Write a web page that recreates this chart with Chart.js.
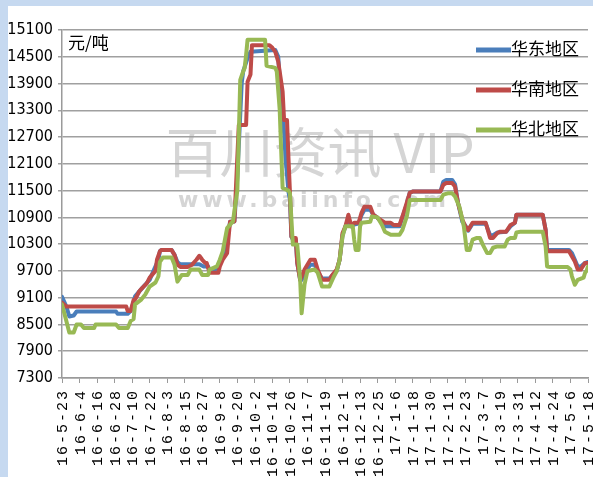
<!DOCTYPE html>
<html>
<head>
<meta charset="utf-8">
<script src="https://cdn.jsdelivr.net/npm/chart.js@4.4.1/dist/chart.umd.min.js"></script>
<style>
    html, body { margin: 0; padding: 0; }
    body { width: 593px; height: 477px; background: #c6d9f0; position: relative; overflow: hidden; }
    #wrap { position: absolute; left: 8px; top: 6px; width: 585px; height: 471px; background: #fff; }
</style>
</head>
<body>
<div id="wrap"><canvas id="chart" width="585" height="471"></canvas></div>
<script>
'use strict';

// x tick labels, one every 12 days starting 16-5-23 (day 0)
var tickLabels = ['16-5-23','16-6-4','16-6-16','16-6-28','16-7-10','16-7-22','16-8-3','16-8-15',
    '16-8-27','16-9-8','16-9-20','16-10-2','16-10-14','16-10-26','16-11-7','16-11-19','16-12-1',
    '16-12-13','16-12-25','17-1-6','17-1-18','17-1-30','17-2-11','17-2-23','17-3-7','17-3-19',
    '17-3-31','17-4-12','17-4-24','17-5-6','17-5-18'];

// 华东地区 (day offset, price)
var eastDays = [0,3,5,8,10,37,38,45,47,49,50,55,60,63,66,67,68,75,77,79,81,94,97,100,101,104,108,110,112,115,118,120,123,124,127,129,146,148,149,151,153,155,156,157,158,160,161,163,164,166,170,173,175,178,183,185,188,190,192,194,196,198,200,203,205,207,211,213,216,221,231,233,236,238,240,259,261,263,267,269,271,274,276,278,281,290,293,295,298,304,307,310,311,329,331,332,347,349,351,353,355,358,360];
var eastValues = [9120,8900,8680,8700,8790,8790,8740,8740,8800,9000,9130,9320,9500,9730,9950,10140,10170,10170,10060,9900,9850,9850,9800,9800,9700,9700,9850,10000,10200,10800,10810,11800,13910,14170,14470,14610,14650,14500,14000,13350,12230,11470,11300,10470,10400,10400,9880,9500,9500,9650,9840,9840,9680,9530,9530,9600,9700,9950,10500,10700,10850,10700,10740,10760,10950,11070,11070,10960,10890,10700,10700,10900,11200,11450,11480,11480,11700,11740,11740,11640,11230,10800,10720,10600,10760,10760,10500,10500,10560,10580,10700,10780,10960,10960,10620,10170,10170,10100,9950,9800,9800,9880,9900];

// 华南地区
var southDays = [0,3,44,45,47,49,50,53,55,58,60,64,65,67,68,75,77,79,81,86,89,92,94,96,98,99,101,107,108,110,113,115,118,121,126,127,129,130,142,144,146,148,151,152,154,155,156,157,158,160,161,163,164,166,170,173,175,178,183,185,188,190,192,194,196,198,200,203,205,207,211,213,216,221,225,227,231,233,236,238,240,259,261,263,267,269,271,274,276,278,281,290,293,295,298,300,304,307,310,311,329,331,332,347,351,353,355,358,360];
var southValues = [8990,8900,8900,8800,8800,9050,9060,9250,9320,9420,9550,9700,9950,10140,10170,10170,10060,9840,9790,9790,9840,9950,10040,9950,9880,9880,9660,9660,9800,9950,10100,10800,10810,12970,12970,13940,14100,14760,14760,14700,14610,14390,13720,13080,13080,12230,11470,10470,10440,10440,9880,9500,9570,9730,9950,9950,9730,9500,9500,9610,9730,9950,10550,10700,10960,10700,10780,10780,11000,11140,11140,10960,10890,10780,10780,10730,10730,10920,11230,11450,11480,11480,11630,11670,11670,11590,11230,10850,10700,10620,10780,10780,10440,10440,10550,10580,10580,10730,10780,10960,10960,10620,10140,10140,9910,9730,9730,9880,9880];

// 华北地区
var northDays = [0,2,5,8,10,13,15,22,23,37,39,45,47,49,50,54,57,60,64,66,67,69,75,77,79,82,86,88,94,96,100,101,106,108,110,113,117,120,122,124,125,126,127,139,140,146,147,149,150,151,155,156,158,161,163,164,166,168,173,175,178,183,186,188,190,192,194,199,200,201,203,204,205,211,212,216,219,221,225,231,233,236,238,259,261,264,267,269,272,275,277,279,281,284,286,288,291,293,295,298,303,305,307,310,311,314,329,331,332,334,346,348,349,351,353,357,358,359,360];
var northValues = [8950,8700,8320,8320,8500,8500,8420,8420,8500,8500,8420,8420,8580,8620,8950,9050,9170,9350,9440,9580,9900,10000,10000,9840,9460,9610,9610,9730,9730,9610,9610,9730,9800,9950,10140,10660,10810,11500,13980,14170,14250,14540,14880,14880,14300,14250,14170,13310,12410,11560,11500,11440,10290,10290,9500,8750,9400,9700,9730,9660,9350,9350,9570,9690,9950,10470,10700,10700,10400,10170,10170,10700,10780,10800,10920,10900,10730,10580,10510,10510,10620,10920,11290,11290,11410,11440,11440,11370,11140,10700,10170,10170,10400,10440,10440,10290,10100,10100,10220,10250,10250,10400,10440,10440,10560,10580,10580,10250,9800,9790,9790,9730,9580,9390,9500,9550,9660,9700,9800];

var seriesLabels = ['华东地区', '华南地区', '华北地区'];
var seriesColors = ['#4a7ebb', '#be4b48', '#98b954'];

function toPoints(days, values) {
    return days.map(function(d, i) {
        return { x: d, y: values[i] };
    });
}

var decorPlugin = {
    id: 'decor',

    beforeDraw: function(chart) {
        var c = chart.ctx;
        c.save();
        c.fillStyle = '#d5d5d5';
        c.textAlign = 'center';
        c.textBaseline = 'middle';
        c.font = '54px "Noto Sans CJK SC", sans-serif';
        c.fillText('百川资讯 VIP', 312, 146);

        c.font = 'bold 22px "DejaVu Sans", sans-serif';
        var site = 'www.baiinfo.com',
            w = c.measureText(site).width,
            gap = Math.max(0, (272 - w) / site.length);
        if ('letterSpacing' in c) {
            c.letterSpacing = gap + 'px';
        }
        c.fillText(site, 304 + gap / 2, 195);
        c.restore();
    },

    afterDraw: function(chart) {
        var c = chart.ctx,
            area = chart.chartArea,
            xs = chart.scales.x;

        c.save();
        c.fillStyle = '#000';

        // unit
        c.textAlign = 'left';
        c.textBaseline = 'middle';
        c.font = '17px "Noto Sans CJK SC", sans-serif';
        c.fillText('元/吨', area.left + 6, area.top + 13);

        // legend, drawn inside the plot
        chart.data.datasets.forEach(function(ds, i) {
            var y = area.top + 20 + i * 40;
            c.beginPath();
            c.lineWidth = 5;
            c.strokeStyle = ds.borderColor;
            c.moveTo(area.right - 112, y);
            c.lineTo(area.right - 77, y);
            c.stroke();
            c.fillText(ds.label, area.right - 77, y - 1);
        });

        // rotated date labels
        c.font = '15px "Liberation Mono", "DejaVu Sans Mono", monospace';
        c.textAlign = 'right';
        c.textBaseline = 'middle';
        if ('letterSpacing' in c) {
            c.letterSpacing = '2px';
        }
        tickLabels.forEach(function(lab, i) {
            var px = xs.getPixelForValue(i * 12);
            c.save();
            c.translate(px + 1, xs.top + 11);
            c.rotate(-Math.PI / 2);
            c.fillText(lab, 0, 0);
            c.restore();
        });
        c.restore();
    }
};

var allDays = [eastDays, southDays, northDays],
    allValues = [eastValues, southValues, northValues];

var datasets = seriesLabels.map(function(label, i) {
    return {
        label: label,
        data: toPoints(allDays[i], allValues[i]),
        borderColor: seriesColors[i],
        backgroundColor: seriesColors[i],
        order: 2 - i
    };
});

var chart = new Chart(document.getElementById('chart').getContext('2d'), {
    type: 'line',
    data: { datasets: datasets },
    options: {
        responsive: false,
        animation: false,
        layout: { padding: { top: 24, right: 5, left: 0, bottom: 0 } },
        plugins: {
            legend: { display: false },
            tooltip: { enabled: false }
        },
        elements: {
            point: { radius: 0 },
            line: { borderWidth: 4, tension: 0, borderJoinStyle: 'round', borderCapStyle: 'round' }
        },
        scales: {
            x: {
                type: 'linear',
                min: 0,
                max: 360,
                afterBuildTicks: function(s) {
                    s.ticks = tickLabels.map(function(l, i) { return { value: i * 12 }; });
                },
                afterFit: function(s) { s.height = 99; },
                ticks: { display: false },
                grid: { drawOnChartArea: false, drawTicks: true, tickLength: 5, color: '#9a9a9a', lineWidth: 1 },
                border: { color: '#9a9a9a', width: 1.5 }
            },
            y: {
                min: 7300,
                max: 15100,
                afterFit: function(s) { s.width = 54; },
                ticks: {
                    stepSize: 600,
                    color: '#000',
                    padding: 5,
                    font: { family: '"Liberation Sans Narrow", "DejaVu Sans Condensed", sans-serif', size: 16 },
                    callback: function(v) { return String(v); }
                },
                grid: { color: '#a0a0a0', lineWidth: 1.5, tickLength: 4 },
                border: { color: '#9a9a9a', width: 1.5 }
            }
        }
    },
    plugins: [decorPlugin]
});
</script>
</body>
</html>
